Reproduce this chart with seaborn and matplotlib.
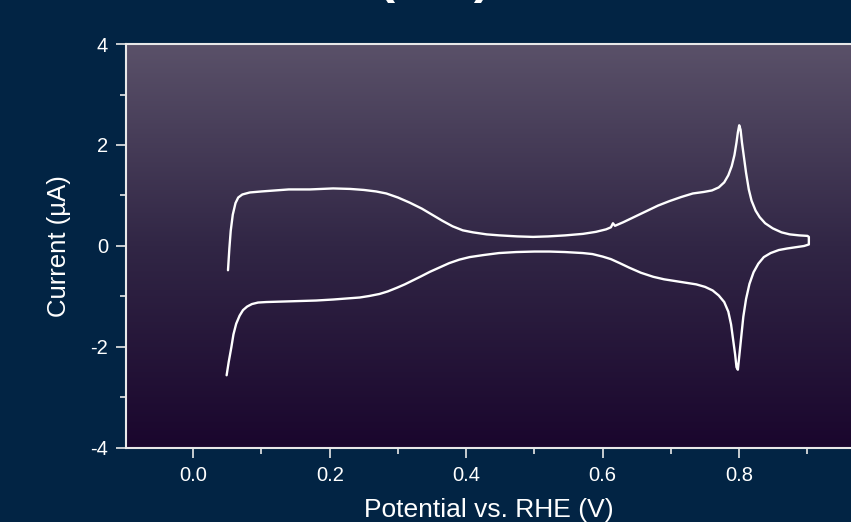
import matplotlib
matplotlib.use('Agg')
import matplotlib.pyplot as plt
from matplotlib.colors import LinearSegmentedColormap
from matplotlib.ticker import MultipleLocator
import numpy as np
import pandas as pd
import seaborn as sns

# Cyclic voltammogram (anodic sweep then cathodic sweep)
potential_v = [0.051, 0.053, 0.055, 0.058, 0.062, 0.066, 0.072, 0.083, 0.100, 0.120,
               0.140, 0.171, 0.205, 0.230, 0.250, 0.268, 0.283, 0.300, 0.317, 0.335,
               0.350, 0.365, 0.380, 0.395, 0.410, 0.430, 0.449, 0.475, 0.498, 0.520,
               0.545, 0.571, 0.590, 0.605, 0.612, 0.615, 0.618, 0.630, 0.647, 0.664,
               0.681, 0.698, 0.715, 0.732, 0.748, 0.760, 0.770, 0.778, 0.784, 0.789,
               0.793, 0.796, 0.798, 0.800, 0.802, 0.804, 0.807, 0.810, 0.814, 0.818,
               0.824, 0.830, 0.838, 0.849, 0.862, 0.874, 0.888, 0.900, 0.902, 0.902,
               0.895, 0.885, 0.870, 0.858, 0.846, 0.836, 0.828, 0.821, 0.815, 0.810,
               0.806, 0.803, 0.800, 0.798, 0.796, 0.794, 0.791, 0.788, 0.784, 0.778,
               0.770, 0.761, 0.750, 0.737, 0.713, 0.690, 0.674, 0.656, 0.639, 0.625,
               0.612, 0.600, 0.585, 0.571, 0.545, 0.522, 0.500, 0.473, 0.448, 0.425,
               0.405, 0.390, 0.375, 0.360, 0.347, 0.334, 0.322, 0.310, 0.298, 0.285,
               0.273, 0.258, 0.244, 0.225, 0.205, 0.180, 0.156, 0.130, 0.107, 0.095,
               0.086, 0.079, 0.073, 0.068, 0.063, 0.059, 0.056, 0.052, 0.049]
current_ua = [-0.48, -0.05, 0.30, 0.62, 0.85, 0.96, 1.02, 1.06, 1.08, 1.10,
              1.12, 1.12, 1.14, 1.13, 1.11, 1.08, 1.04, 0.96, 0.86, 0.74,
              0.62, 0.50, 0.39, 0.31, 0.27, 0.23, 0.21, 0.19, 0.18, 0.19,
              0.21, 0.24, 0.28, 0.33, 0.37, 0.45, 0.40, 0.47, 0.58, 0.69,
              0.80, 0.89, 0.97, 1.04, 1.07, 1.10, 1.16, 1.26, 1.40, 1.58,
              1.80, 2.05, 2.25, 2.39, 2.30, 2.05, 1.75, 1.45, 1.12, 0.90,
              0.70, 0.57, 0.45, 0.35, 0.27, 0.23, 0.21, 0.20, 0.18, 0.03,
              0.00, -0.02, -0.05, -0.08, -0.14, -0.22, -0.35, -0.52, -0.75, -1.05,
              -1.40, -1.80, -2.20, -2.45, -2.40, -2.15, -1.85, -1.55, -1.30, -1.11,
              -0.98, -0.88, -0.81, -0.76, -0.71, -0.66, -0.61, -0.53, -0.43, -0.34,
              -0.26, -0.21, -0.16, -0.14, -0.12, -0.11, -0.11, -0.12, -0.14, -0.18,
              -0.22, -0.27, -0.34, -0.43, -0.51, -0.60, -0.68, -0.76, -0.83, -0.90,
              -0.95, -0.99, -1.02, -1.04, -1.06, -1.08, -1.09, -1.10, -1.11, -1.12,
              -1.15, -1.20, -1.27, -1.38, -1.54, -1.75, -2.00, -2.30, -2.56]

x_ticks = [0.0, 0.2, 0.4, 0.6, 0.8]
y_ticks = [-4, -2, 0, 2, 4]

df = pd.DataFrame({'potential': potential_v, 'current': current_ua})

sns.set_theme(style='ticks')
plt.rcParams['font.family'] = ['Liberation Sans', 'DejaVu Sans']
plt.rcParams['axes.unicode_minus'] = False

fig = plt.figure(figsize=(8.51, 5.22), dpi=100)
fig.patch.set_facecolor('#022444')
ax = fig.add_axes([0.148, 0.1418, 0.853, 0.7739])

# gradient plot background
grad_cmap = LinearSegmentedColormap.from_list('bg', ['#1a062d', '#312645', '#5a5169'])
ax.imshow(np.linspace(0, 1, 256).reshape(-1, 1), cmap=grad_cmap, origin='lower',
          extent=[0, 1, 0, 1], transform=ax.transAxes, aspect='auto', zorder=0)

sns.lineplot(data=df, x='potential', y='current', sort=False, estimator=None,
             color='white', linewidth=1.7, ax=ax, zorder=3)

ax.set_xlim(-0.0985, 0.965)
ax.set_ylim(-4, 4)
ax.set_xticks(x_ticks)
ax.set_yticks(y_ticks)
ax.xaxis.set_minor_locator(MultipleLocator(0.1))
ax.yaxis.set_minor_locator(MultipleLocator(1))
ax.set_xticklabels(['%.1f' % v for v in x_ticks])
ax.set_yticklabels([str(v) for v in y_ticks])

ax.set_xlabel('Potential vs. RHE (V)', color='white', fontsize=19, labelpad=9)
ax.set_ylabel('Current (\u00b5A)', color='white', fontsize=18.5, labelpad=14)

for side in ['left', 'bottom', 'top']:
    ax.spines[side].set_color('#e8e8e8')
    ax.spines[side].set_linewidth(1.5)
ax.spines['right'].set_visible(False)

ax.tick_params(which='major', direction='out', length=7, width=1.2, colors='#e8e8e8',
               labelcolor='white', labelsize=14.5, pad=6)
ax.tick_params(which='minor', direction='out', length=4, width=1.2, colors='#e8e8e8')
ax.tick_params(top=False, right=False, which='both')

# title cut off by the top edge of the image
fig.text(0.510, 1 - 3 / 522, '(111)', color='white', fontsize=37, fontweight='bold',
         ha='center', va='bottom')

fig.savefig('out.png', dpi=100, facecolor=fig.get_facecolor())
